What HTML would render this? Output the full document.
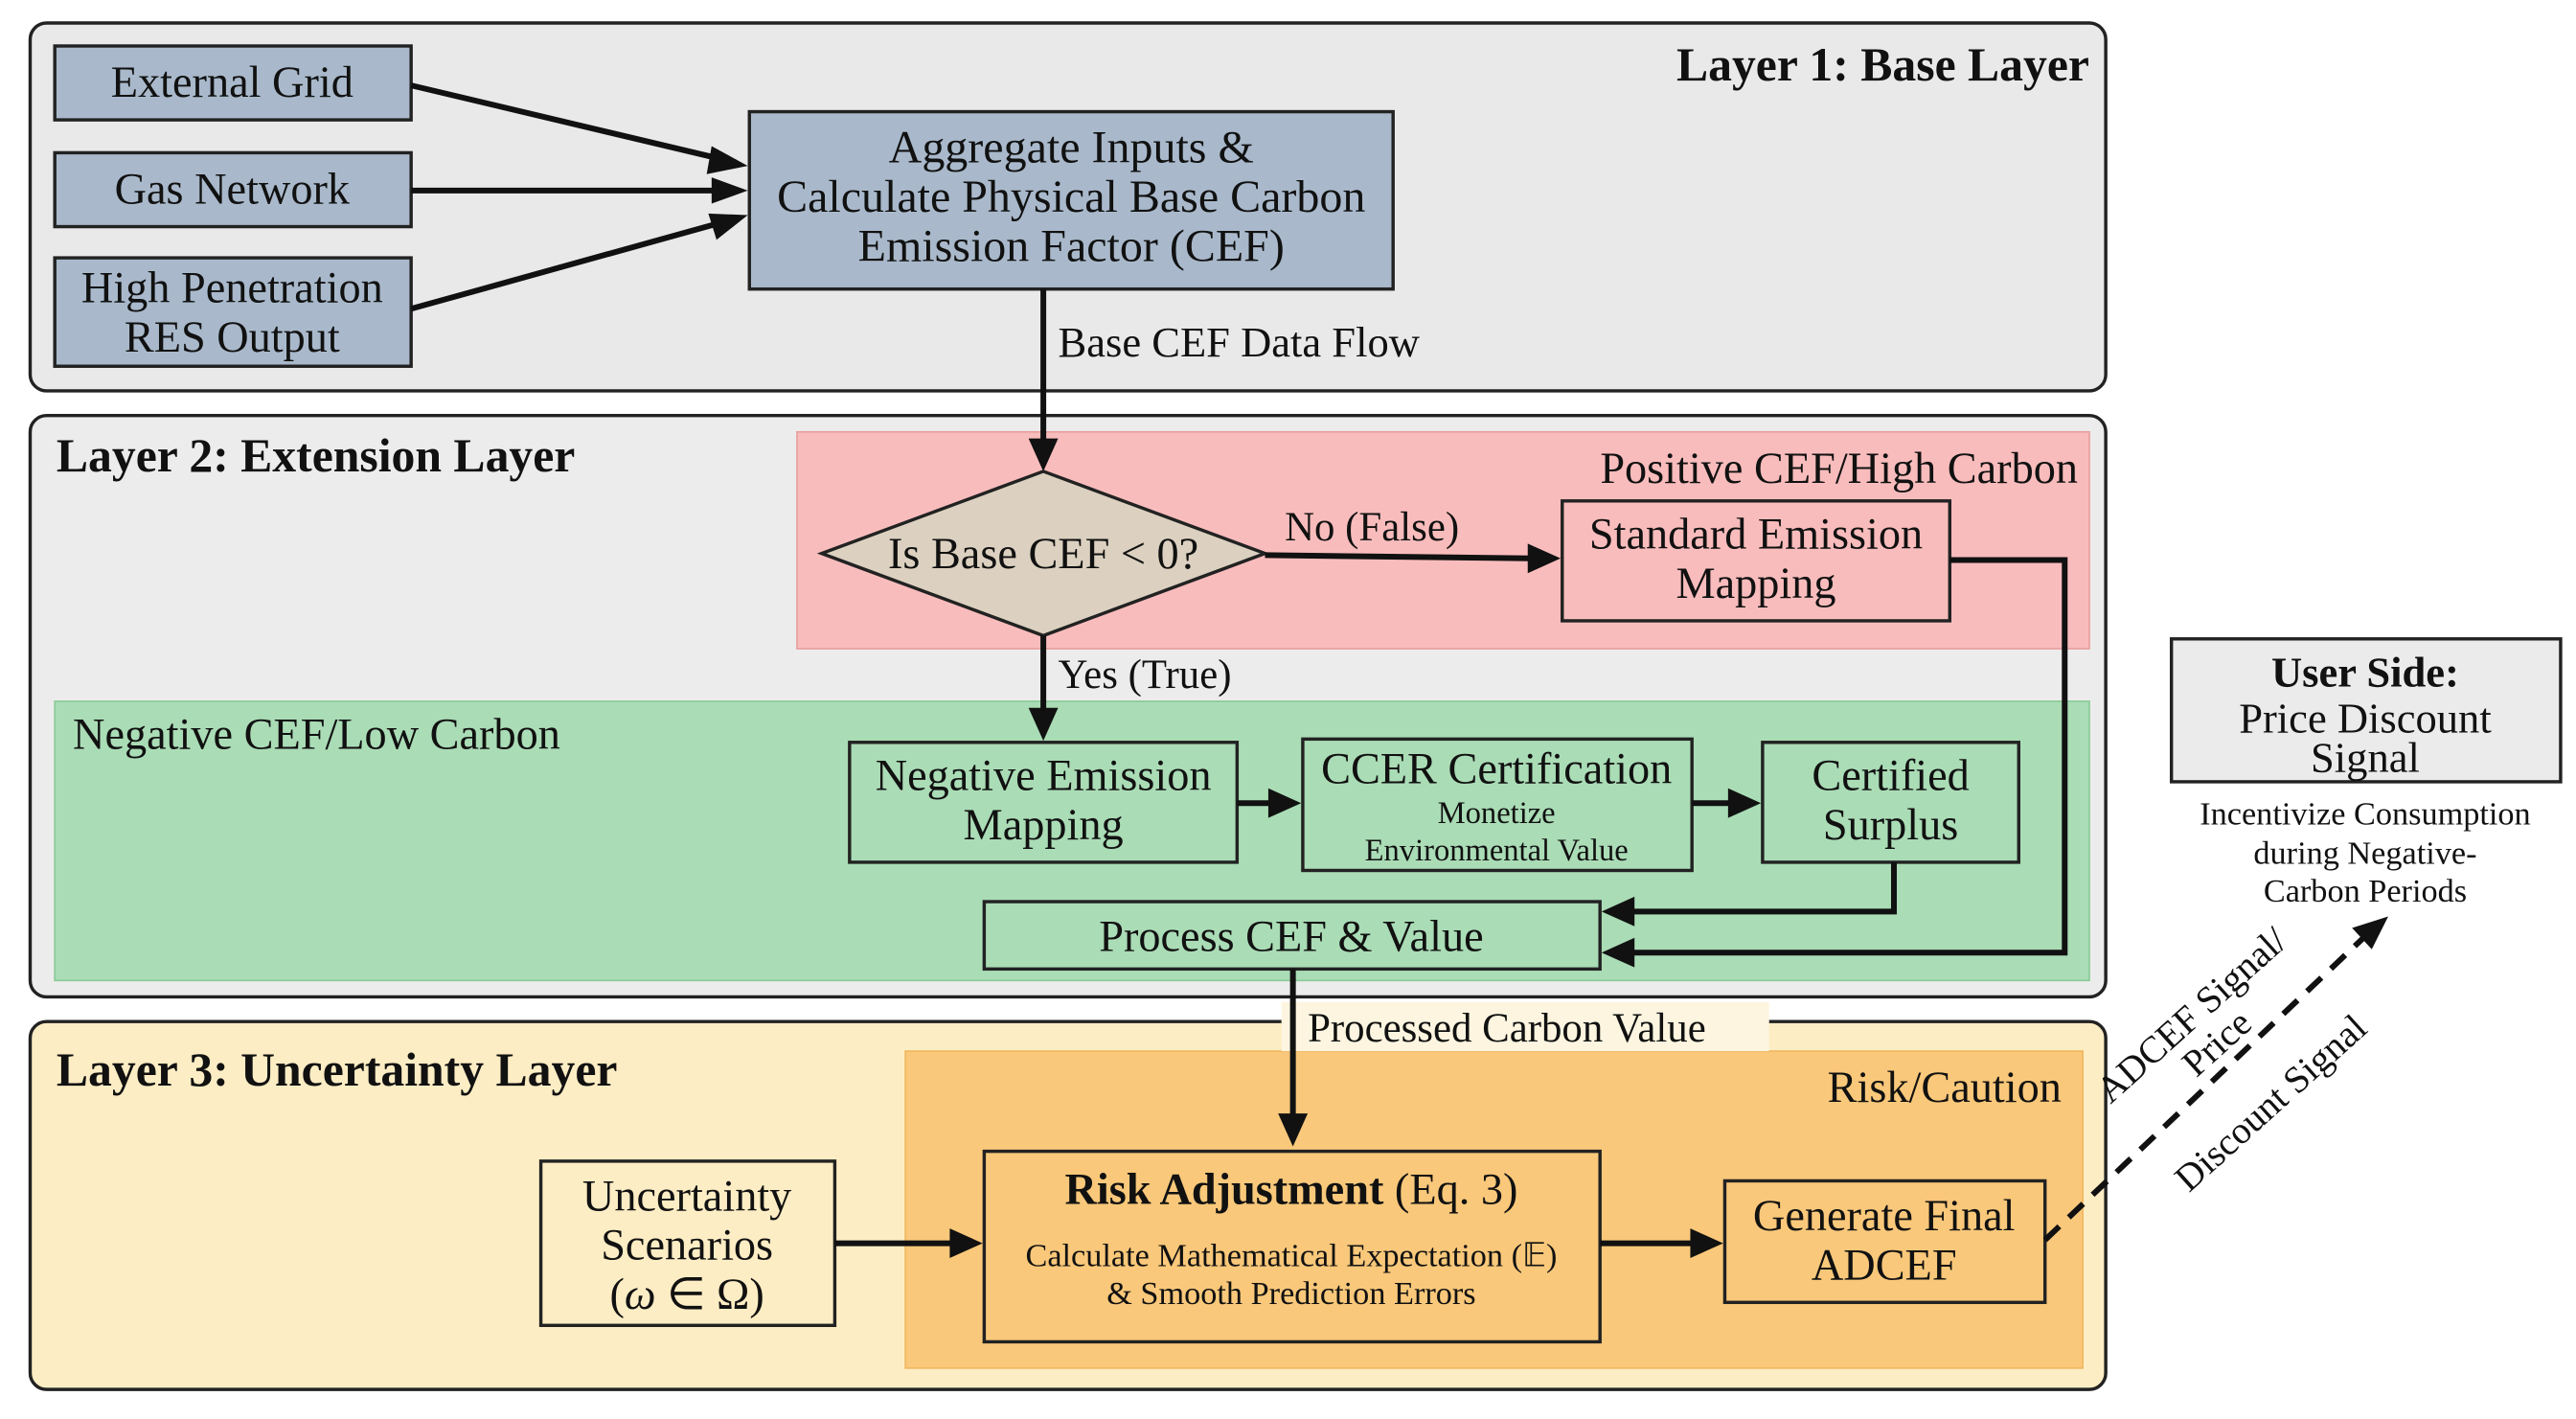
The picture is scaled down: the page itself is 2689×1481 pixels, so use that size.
<!DOCTYPE html>
<html><head><meta charset="utf-8"><style>
html,body{margin:0;padding:0;background:#fff;}
svg{display:block;}
text{font-family:"Liberation Serif",serif;fill:#111;}
</style></head><body>
<svg width="2689" height="1481" viewBox="0 0 1568 864" xmlns="http://www.w3.org/2000/svg">
<rect width="1568" height="864" fill="#fff"/>
<!-- Layer 1 -->
<rect x="18" y="14" width="1264" height="224" rx="10" fill="#e9e9e9" stroke="#222" stroke-width="2"/>
<text x="1272" y="49" font-size="29" font-weight="bold" text-anchor="end">Layer 1: Base Layer</text>
<g fill="#a9b9cb" stroke="#222" stroke-width="2">
<rect x="33" y="28" width="217" height="45"/>
<rect x="33" y="93" width="217" height="45"/>
<rect x="33" y="157" width="217" height="66"/>
<rect x="456" y="68" width="392" height="108"/>
</g>
<g font-size="27" text-anchor="middle">
<text x="141" y="59">External Grid</text>
<text x="141" y="124">Gas Network</text>
<text x="141" y="184">High Penetration</text>
<text x="141" y="214">RES Output</text>
<text x="652" y="99" font-size="28">Aggregate Inputs &amp;</text>
<text x="652" y="129" font-size="28">Calculate Physical Base Carbon</text>
<text x="652" y="159" font-size="28">Emission Factor (CEF)</text>
</g>
<g stroke="#111" stroke-width="3.5" fill="none">
<line x1="250" y1="52" x2="448" y2="99"/>
<line x1="250" y1="116" x2="448" y2="116"/>
<line x1="250" y1="188" x2="448" y2="133"/>
</g>
<g fill="#111">
<path d="M455,101 l-22,-12 l-3,17 z"/>
<path d="M455,116 l-22,-8 l0,16 z"/>
<path d="M455,131 l-24,-1 l5,16 z"/>
</g>
<!-- Layer 2 -->
<rect x="18" y="253" width="1264" height="354" rx="10" fill="#ececec" stroke="#222" stroke-width="2"/>
<rect x="485" y="263" width="787" height="132" fill="#f9bcbc" stroke="#e8a0a0" stroke-width="1"/>
<rect x="33" y="427" width="1239" height="170" fill="#aadcb6" stroke="#8ccb9a" stroke-width="1"/>
<text x="34" y="287" font-size="29" font-weight="bold">Layer 2: Extension Layer</text>
<text x="1265" y="294" font-size="27" text-anchor="end">Positive CEF/High Carbon</text>
<text x="44" y="456" font-size="27">Negative CEF/Low Carbon</text>
<line x1="635" y1="176" x2="635" y2="270" stroke="#111" stroke-width="3.5"/>
<path d="M635,287 l-9,-20 l18,0 z" fill="#111"/>
<text x="644" y="217" font-size="26">Base CEF Data Flow</text>
<polygon points="635,287 770,337 635,387 500,337" fill="#dcd1c0" stroke="#222" stroke-width="2"/>
<text x="635" y="346" font-size="27" text-anchor="middle">Is Base CEF &lt; 0?</text>
<line x1="770" y1="338" x2="932" y2="340" stroke="#111" stroke-width="3.5"/>
<path d="M950,340 l-20,-9 l0,18 z" fill="#111"/>
<text x="782" y="329" font-size="25">No (False)</text>
<rect x="951" y="305" width="236" height="73" fill="#f9bcbc" stroke="#222" stroke-width="2"/>
<text x="1069" y="334" font-size="27" text-anchor="middle">Standard Emission</text>
<text x="1069" y="364" font-size="27" text-anchor="middle">Mapping</text>
<polyline points="1187,341 1257,341 1257,580 992,580" fill="none" stroke="#111" stroke-width="3.5"/>
<path d="M975,580 l20,-9 l0,18 z" fill="#111"/>
<line x1="635" y1="387" x2="635" y2="434" stroke="#111" stroke-width="3.5"/>
<path d="M635,451 l-9,-20 l18,0 z" fill="#111"/>
<text x="644" y="419" font-size="25">Yes (True)</text>
<g fill="#aadcb6" stroke="#222" stroke-width="2">
<rect x="517" y="452" width="236" height="73"/>
<rect x="793" y="450" width="237" height="80"/>
<rect x="1073" y="452" width="156" height="73"/>
<rect x="599" y="549" width="375" height="41"/>
</g>
<g text-anchor="middle" font-size="27">
<text x="635" y="481">Negative Emission</text>
<text x="635" y="511">Mapping</text>
<text x="911" y="477">CCER Certification</text>
<text x="911" y="501" font-size="19">Monetize</text>
<text x="911" y="524" font-size="19">Environmental Value</text>
<text x="1151" y="481">Certified</text>
<text x="1151" y="511">Surplus</text>
<text x="786" y="579">Process CEF &amp; Value</text>
</g>
<line x1="753" y1="489" x2="774" y2="489" stroke="#111" stroke-width="3.5"/>
<path d="M792,489 l-20,-9 l0,18 z" fill="#111"/>
<line x1="1030" y1="489" x2="1054" y2="489" stroke="#111" stroke-width="3.5"/>
<path d="M1072,489 l-20,-9 l0,18 z" fill="#111"/>
<polyline points="1153,525 1153,555 992,555" fill="none" stroke="#111" stroke-width="3.5"/>
<path d="M975,555 l20,-9 l0,18 z" fill="#111"/>
<!-- Layer 3 -->
<rect x="18" y="622" width="1264" height="224" rx="10" fill="#fdedc4" stroke="#222" stroke-width="2"/>
<rect x="551" y="640" width="717" height="193" fill="#f9c87a" stroke="#f0b860" stroke-width="1"/>
<text x="34" y="661" font-size="29" font-weight="bold">Layer 3: Uncertainty Layer</text>
<text x="1255" y="671" font-size="27" text-anchor="end">Risk/Caution</text>
<rect x="780" y="610" width="297" height="30" fill="#fdf5e0"/>
<line x1="787" y1="590" x2="787" y2="680" stroke="#111" stroke-width="3.5"/>
<path d="M787,698 l-9,-20 l18,0 z" fill="#111"/>
<text x="796" y="634" font-size="25">Processed Carbon Value</text>
<rect x="329" y="707" width="179" height="100" fill="#fdedc4" stroke="#222" stroke-width="2"/>
<rect x="599" y="701" width="375" height="116" fill="#f9c87a" stroke="#222" stroke-width="2"/>
<rect x="1050" y="719" width="195" height="74" fill="#f9c87a" stroke="#222" stroke-width="2"/>
<g text-anchor="middle" font-size="27">
<text x="418" y="737">Uncertainty</text>
<text x="418" y="767">Scenarios</text>
<text x="418" y="797">(<tspan font-style="italic">ω</tspan> ∈ Ω)</text>
<text x="786" y="733"><tspan font-weight="bold">Risk Adjustment</tspan> (Eq. 3)</text>
<text x="786" y="771" font-size="20">Calculate Mathematical Expectation (𝔼)</text>
<text x="786" y="794" font-size="20">&amp; Smooth Prediction Errors</text>
<text x="1147" y="749">Generate Final</text>
<text x="1147" y="779">ADCEF</text>
</g>
<line x1="508" y1="757" x2="580" y2="757" stroke="#111" stroke-width="3.5"/>
<path d="M598,757 l-20,-9 l0,18 z" fill="#111"/>
<line x1="974" y1="757" x2="1031" y2="757" stroke="#111" stroke-width="3.5"/>
<path d="M1049,757 l-20,-9 l0,18 z" fill="#111"/>
<!-- User side -->
<line x1="1245" y1="755" x2="1440" y2="570" stroke="#111" stroke-width="3.5" stroke-dasharray="12,8"/>
<path d="M1454,558 l-22,7 l12,13 z" fill="#111"/>
<rect x="1322" y="389" width="237" height="87" fill="#ebebeb" stroke="#222" stroke-width="2"/>
<text x="1440" y="418" font-size="26" font-weight="bold" text-anchor="middle">User Side:</text>
<text x="1440" y="446" font-size="26" text-anchor="middle">Price Discount</text>
<text x="1440" y="470" font-size="26" text-anchor="middle">Signal</text>
<g font-size="20" text-anchor="middle">
<text x="1440" y="502">Incentivize Consumption</text>
<text x="1440" y="526">during Negative-</text>
<text x="1440" y="549">Carbon Periods</text>
</g>
<g transform="translate(1354,640) rotate(-42)" font-size="23" text-anchor="middle">
<text x="0" y="-22">ADCEF Signal/</text>
<text x="0" y="1">Price</text>
<text x="0" y="50">Discount Signal</text>
</g>
</svg>
</body></html>
